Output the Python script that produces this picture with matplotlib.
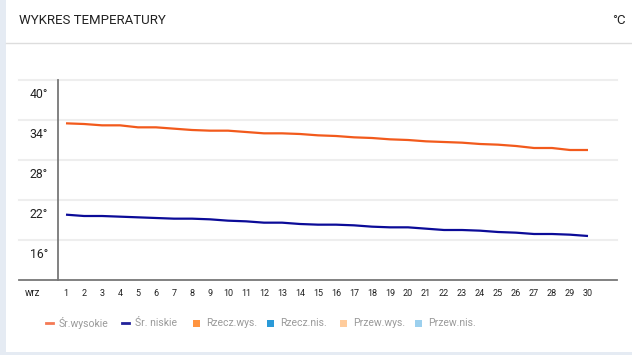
import numpy as np
import matplotlib.pyplot as plt
from matplotlib.patches import Rectangle
from matplotlib.lines import Line2D
import matplotlib.transforms as mtransforms

plt.rcParams['font.family'] = ['Liberation Sans Narrow', 'Roboto', 'DejaVu Sans']

days = list(range(1, 31))
avg_high = [33.5, 33.4, 33.2, 33.2, 32.9, 32.9, 32.7, 32.5, 32.4, 32.4,
            32.2, 32.0, 32.0, 31.9, 31.7, 31.6, 31.4, 31.3, 31.1, 31.0,
            30.8, 30.7, 30.6, 30.4, 30.3, 30.1, 29.8, 29.8, 29.5, 29.5]
avg_low = [19.8, 19.6, 19.6, 19.5, 19.4, 19.3, 19.2, 19.2, 19.1, 18.9,
           18.8, 18.6, 18.6, 18.4, 18.3, 18.3, 18.2, 18.0, 17.9, 17.9,
           17.7, 17.5, 17.5, 17.4, 17.2, 17.1, 16.9, 16.9, 16.8, 16.6]
y_ticks = [40, 34, 28, 22, 16]
month_label = "wrz"

legend_labels = ["Śr.wysokie", "Śr. niskie", "Rzecz.wys.", "Rzecz.nis.", "Przew.wys.", "Przew.nis."]
legend_colors = ["#f47a55", "#22229a", "#ff9440", "#2a9ad8", "#ffcc9c", "#9cd0ee"]
legend_kinds = ["line", "line", "box", "box", "box", "box"]
legend_x = [46, 122, 193, 267, 340, 415]

W, H = 632, 355
fig = plt.figure(figsize=(W / 100, H / 100), dpi=100)
fig.patch.set_facecolor("#e5ebf3")
card = Rectangle((6 / W, 3 / H), 1 - 6 / W, 1, transform=fig.transFigure,
                 facecolor="white", edgecolor="none", zorder=-5)
fig.patches.append(card)

# header
fig.text(19 / W, 1 - 20 / H, "WYKRES TEMPERATURY", fontsize=9.5, color="#222222", va="center", ha="left")
fig.text(626 / W, 1 - 20 / H, "°C", fontsize=9.5, color="#222222", va="center", ha="right")
fig.add_artist(Line2D([6 / W, 1], [1 - 43 / H, 1 - 43 / H], transform=fig.transFigure,
                      color="#dddddd", lw=1))

ax = fig.add_axes([19 / W, 1 - 280 / H, (617 - 19) / W, 200 / H])
ax.set_facecolor("none")
ax.set_zorder(2)
ax.set_xlim(1 - 47 / 18, 1 + 551 / 18)
ax.set_ylim(10, 40)
for s in ax.spines.values():
    s.set_visible(False)

for v in y_ticks:
    ax.axhline(v, color="#eeeeee", lw=1.5, zorder=1, clip_on=False)
ax.axhline(10, color="#777777", lw=1.3, zorder=3, clip_on=False)
ax.axvline(1 - 8 / 18, color="#777777", lw=1.3, zorder=3, clip_on=False)

ax.plot(days, avg_high, color="#f25a1c", lw=1.6, zorder=4, solid_capstyle="butt")
ax.plot(days, avg_low, color="#0b0b98", lw=1.6, zorder=4, solid_capstyle="butt")

ax.set_xticks([])
ax.set_yticks([])
# labels sit below their gridline, like in the widget
offset = mtransforms.ScaledTranslation(0, -15 / 100, fig.dpi_scale_trans)
trans_y = mtransforms.blended_transform_factory(fig.transFigure, ax.transData) + offset
for v in y_ticks:
    ax.text(48 / W, v, f"{v}°", transform=trans_y, fontsize=8.8, ha="right", va="center", color="#222222")

lbl_trans = mtransforms.blended_transform_factory(ax.transData, fig.transFigure)
for d in days:
    ax.text(d, 1 - 293 / H, str(d), transform=lbl_trans, fontsize=6.5, ha="center", va="center", color="#222222")
fig.text(32 / W, 1 - 293 / H, month_label, fontsize=7, ha="center", va="center", color="#222222")

# legend
ly = 1 - 323 / H
for lab, col, kind, lx in zip(legend_labels, legend_colors, legend_kinds, legend_x):
    if kind == "line":
        fig.add_artist(Line2D([lx / W, (lx + 7) / W], [ly, ly], transform=fig.transFigure, color=col, lw=2))
        tx = lx + 13
    else:
        fig.patches.append(Rectangle((lx / W, ly - 3.5 / H), 7 / W, 7 / H, transform=fig.transFigure,
                                     facecolor=col, edgecolor="none"))
        tx = lx + 13
    fig.text(tx / W, ly, lab, fontsize=7.5, color="#9a9a9a", ha="left", va="center")

fig.savefig("out.png", dpi=100)
